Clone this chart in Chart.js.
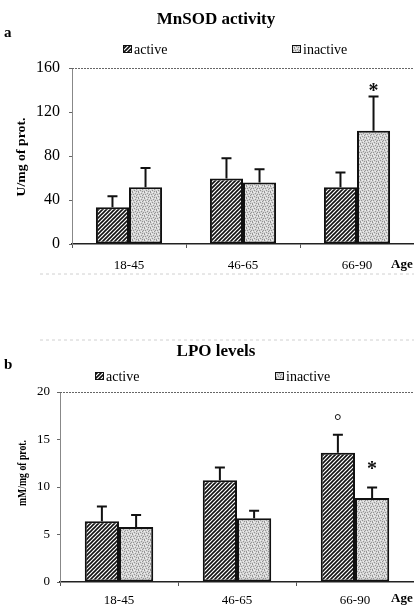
<!DOCTYPE html>
<html>
<head>
<meta charset="utf-8">
<style>
  html, body { margin: 0; padding: 0; background: #fff; }
  #wrap { position: relative; width: 414px; height: 608px; overflow: hidden; }
  .panel { position: absolute; left: 0; width: 414px; }
  #pa { top: 0; height: 290px; }
  #pb { top: 330px; height: 278px; }
</style>
<script src="https://cdn.jsdelivr.net/npm/chart.js@4.4.0/dist/chart.umd.min.js"></script>
</head>
<body>
<div id="wrap">
  <div class="panel" id="pa"><canvas id="chartA"></canvas></div>
  <div class="panel" id="pb"><canvas id="chartB"></canvas></div>
</div>
<script>
// data
const ageGroups = ['18-45', '46-65', '66-90'];

const mnsodActive = [33.5, 59.5, 51.5];
const mnsodActiveErr = [10, 18.5, 13.5];
const mnsodInactive = [51.5, 56, 103];
const mnsodInactiveErr = [17.5, 12, 31];
const mnsodTicks = [0, 40, 80, 120, 160];

const lpoActive = [6.4, 10.7, 13.6];
const lpoActiveErr = [1.55, 1.35, 1.9];
const lpoInactive = [5.8, 6.7, 8.85];
const lpoInactiveErr = [1.25, 0.8, 1.1];
const lpoTicks = [0, 5, 10, 15, 20];

// significance marks: [dataset, category, symbol]
const mnsodMarks = [[1, 2, '*']];
const lpoMarks = [[0, 2, '°'], [1, 2, '*']];

const SERIF = '"Liberation Serif", "DejaVu Serif", serif';

function hatchPattern(ctx) {
  const c = document.createElement('canvas');
  c.width = 4; c.height = 4;
  const g = c.getContext('2d');
  g.fillStyle = '#fff';
  g.fillRect(0, 0, 4, 4);
  g.strokeStyle = '#111';
  g.lineWidth = 1.6;
  g.beginPath();
  g.moveTo(0, 4); g.lineTo(4, 0);
  g.moveTo(-1, 1); g.lineTo(1, -1);
  g.moveTo(3, 5); g.lineTo(5, 3);
  g.stroke();
  return ctx.createPattern(c, 'repeat');
}

function stipplePattern(ctx) {
  const c = document.createElement('canvas');
  c.width = 6; c.height = 6;
  const g = c.getContext('2d');
  g.fillStyle = '#d4d4d4';
  g.fillRect(0, 0, 6, 6);
  g.fillStyle = '#959595';
  [[0,0],[3,1],[1,2],[5,2],[2,4],[4,5],[0,5],[4,3]].forEach(([x, y]) => g.fillRect(x, y, 1, 1));
  g.fillStyle = '#f0f0f0';
  [[2,0],[5,0],[0,3],[3,3],[1,5]].forEach(([x, y]) => g.fillRect(x, y, 1, 1));
  return ctx.createPattern(c, 'repeat');
}

// error bars (upper only) + significance marks
const errorBars = {
  id: 'errorBars',
  afterDatasetsDraw(chart, args, opts) {
    const ctx = chart.ctx;
    const y = chart.scales.y;
    ctx.save();
    ctx.strokeStyle = '#111';
    ctx.lineWidth = 2;
    chart.data.datasets.forEach((ds, di) => {
      const meta = chart.getDatasetMeta(di);
      meta.data.forEach((bar, i) => {
        const top = y.getPixelForValue(ds.data[i] + ds.errors[i]);
        ctx.beginPath();
        ctx.moveTo(bar.x, bar.y);
        ctx.lineTo(bar.x, top);
        ctx.moveTo(bar.x - 5, top);
        ctx.lineTo(bar.x + 5, top);
        ctx.stroke();
      });
    });
    ctx.fillStyle = '#111';
    ctx.textAlign = 'center';
    (opts.marks || []).forEach(([di, i, sym], k) => {
      const ds = chart.data.datasets[di];
      const bar = chart.getDatasetMeta(di).data[i];
      const top = y.getPixelForValue(ds.data[i] + ds.errors[i]);
      if (sym === '*') {
        ctx.font = 'bold 20px ' + SERIF;
        ctx.textBaseline = 'middle';
        ctx.fillText(sym, bar.x, top - opts.markGap[k] + 4);
      } else {
        ctx.font = '19px ' + SERIF;
        ctx.textBaseline = 'alphabetic';
        ctx.fillText(sym, bar.x, top - opts.markGap[k]);
      }
    });
    ctx.restore();
  }
};

// titles, panel letter, legend, axis title, "Age", frame line
const decor = {
  id: 'decor',
  afterDraw(chart, args, o) {
    const ctx = chart.ctx;
    const a = chart.chartArea;
    ctx.save();
    ctx.fillStyle = '#000';
    ctx.textBaseline = 'middle';
    ctx.textAlign = 'center';
    ctx.font = 'bold 17px ' + SERIF;
    ctx.fillText(o.title, 216, o.titleY);
    ctx.textAlign = 'left';
    ctx.font = 'bold 15px ' + SERIF;
    ctx.fillText(o.letter, 4, o.letterY);

    ctx.font = '14px ' + SERIF;
    chart.data.datasets.forEach((ds, i) => {
      const x = o.legendX[i];
      ctx.fillStyle = ds.backgroundColor;
      ctx.fillRect(x, o.legendY - 4, 9, 8);
      ctx.strokeStyle = '#111';
      ctx.lineWidth = 1;
      ctx.strokeRect(x + 0.5, o.legendY - 3.5, 8, 7);
      ctx.fillStyle = '#000';
      ctx.fillText(ds.label, x + 11, o.legendY + 1);
    });

    // rotated y axis title, fitted to the reference length
    ctx.save();
    ctx.translate(o.yTitleX, o.yTitleY);
    ctx.rotate(-Math.PI / 2);
    ctx.font = 'bold 13px ' + SERIF;
    const w = ctx.measureText(o.yTitle).width;
    ctx.scale(o.yTitleLen / w, 1);
    ctx.textAlign = 'center';
    ctx.fillStyle = '#000';
    ctx.fillText(o.yTitle, 0, 0);
    ctx.restore();

    ctx.font = 'bold 13px ' + SERIF;
    ctx.textAlign = 'left';
    ctx.fillText('Age', 391, o.ageY);

    ctx.strokeStyle = '#666';
    ctx.lineWidth = 1;
    ctx.setLineDash([2, 1]);
    ctx.beginPath();
    ctx.moveTo(a.left, a.top + 0.5);
    ctx.lineTo(a.right, a.top + 0.5);
    ctx.stroke();

    if (o.sepY) {
      ctx.strokeStyle = '#d0d0d0';
      ctx.setLineDash([3, 3]);
      ctx.beginPath();
      ctx.moveTo(40, o.sepY);
      ctx.lineTo(414, o.sepY);
      ctx.stroke();
    }
    ctx.restore();
  }
};

function panel(id, cfg) {
  const el = document.getElementById(id);
  const ctx = el.getContext('2d');
  const hatch = hatchPattern(ctx);
  const stipple = stipplePattern(ctx);
  const step = cfg.ticks[1] - cfg.ticks[0];
  return new Chart(el, {
    type: 'bar',
    data: {
      labels: ageGroups,
      datasets: [
        { label: 'active', data: cfg.active, errors: cfg.activeErr, backgroundColor: hatch },
        { label: 'inactive', data: cfg.inactive, errors: cfg.inactiveErr, backgroundColor: stipple }
      ]
    },
    options: {
      responsive: true,
      maintainAspectRatio: false,
      animation: false,
      devicePixelRatio: 1,
      layout: { padding: { top: cfg.top, left: 0, right: 0, bottom: 0 } },
      datasets: {
        bar: {
          categoryPercentage: 0.58,
          barPercentage: 1.0,
          borderColor: '#111',
          borderWidth: 2,
          borderSkipped: false
        }
      },
      plugins: {
        legend: { display: false },
        title: { display: false },
        tooltip: { enabled: false },
        errorBars: { marks: cfg.marks, markGap: cfg.markGap },
        decor: cfg.decor
      },
      scales: {
        x: {
          offset: true,
          grid: { offset: true, drawOnChartArea: false, drawTicks: true, tickLength: 4, color: '#555' },
          border: { color: '#222', width: 1.5 },
          ticks: { color: '#000', font: { family: SERIF, size: 13 }, padding: cfg.xPad, maxRotation: 0 },
          afterFit: (s) => { s.height = cfg.xHeight; }
        },
        y: {
          min: cfg.ticks[0],
          max: cfg.ticks[cfg.ticks.length - 1],
          afterBuildTicks: (s) => { s.ticks = cfg.ticks.map(v => ({ value: v })); },
          ticks: { stepSize: step, color: '#000', font: { family: SERIF, size: cfg.yFont }, padding: cfg.yPad },
          grid: { drawOnChartArea: false, drawTicks: true, tickLength: 3, color: '#666' },
          border: { color: '#888', width: 1 },
          title: { display: false },
          afterFit: (s) => { s.width = cfg.yWidth; }
        }
      }
    },
    plugins: [errorBars, decor]
  });
}

panel('chartA', {
  active: mnsodActive, activeErr: mnsodActiveErr,
  inactive: mnsodInactive, inactiveErr: mnsodInactiveErr,
  ticks: mnsodTicks, marks: mnsodMarks, markGap: [9],
  yWidth: 72, yFont: 16, yPad: 9,
  top: 68, xHeight: 46, xPad: 10,
  decor: { title: 'MnSOD activity', titleY: 20, letter: 'a', letterY: 33,
           legendX: [123, 292], legendY: 49, ageY: 265, sepY: 274,
           yTitle: 'U/mg of prot.', yTitleX: 22, yTitleY: 157, yTitleLen: 79 }
});

panel('chartB', {
  active: lpoActive, activeErr: lpoActiveErr,
  inactive: lpoInactive, inactiveErr: lpoInactiveErr,
  ticks: lpoTicks, marks: lpoMarks, markGap: [8, 22],
  yWidth: 60, yFont: 13, yPad: 7,
  top: 62, xHeight: 26, xPad: 7,
  decor: { title: 'LPO levels', titleY: 22, letter: 'b', letterY: 35,
           legendX: [95, 275], legendY: 46, ageY: 269, sepY: 10,
           yTitle: 'mM/mg of prot.', yTitleX: 23, yTitleY: 143, yTitleLen: 66 }
});
</script>
</body>
</html>
